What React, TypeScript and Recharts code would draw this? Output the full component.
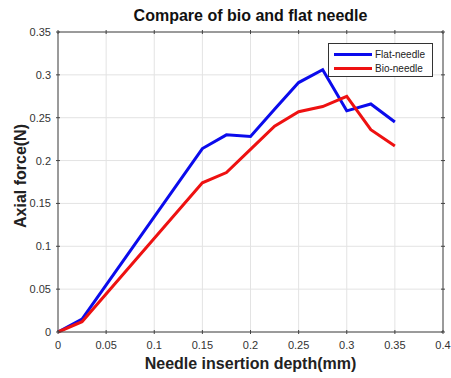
import {
  CartesianGrid,
  Label,
  Line,
  LineChart,
  XAxis,
  YAxis,
} from "recharts";

const depthMm = [0, 0.025, 0.15, 0.175, 0.2, 0.225, 0.25, 0.275, 0.3, 0.325, 0.35];
const flatNeedle = [0, 0.015, 0.214, 0.23, 0.228, 0.26, 0.291, 0.306, 0.258, 0.266, 0.245];
const bioNeedle = [0, 0.012, 0.174, 0.186, 0.213, 0.24, 0.257, 0.263, 0.275, 0.236, 0.217];
const xTicks = [0, 0.05, 0.1, 0.15, 0.2, 0.25, 0.3, 0.35, 0.4];
const yTicks = [0, 0.05, 0.1, 0.15, 0.2, 0.25, 0.3, 0.35];

const data = depthMm.map((d, i) => ({ depth: d, flat: flatNeedle[i], bio: bioNeedle[i] }));

const FONT = "'Liberation Sans', Arial, sans-serif";
const BLUE = "#0b0bec";
const RED = "#ee1111";
const AXIS = "#444";

const fmt = (v: number) => String(Number(v.toFixed(2)));

const BottomTick = ({ x, y, payload }: any) => (
  <g>
    <line x1={x} x2={x} y1={y} y2={y - 4} stroke={AXIS} />
    <text x={x} y={y + 15} textAnchor="middle" fontSize={11} fill="#333" fontFamily={FONT}>
      {fmt(payload.value)}
    </text>
  </g>
);
const TopTick = ({ x, y }: any) => <line x1={x} x2={x} y1={y} y2={y + 4} stroke={AXIS} />;
const LeftTick = ({ x, y, payload }: any) => (
  <g>
    <line x1={x} x2={x + 4} y1={y} y2={y} stroke={AXIS} />
    <text x={x - 5} y={y + 4} textAnchor="end" fontSize={11} fill="#333" fontFamily={FONT}>
      {fmt(payload.value)}
    </text>
  </g>
);
const RightTick = ({ x, y }: any) => <line x1={x} x2={x - 4} y1={y} y2={y} stroke={AXIS} />;

const legendItems = [
  { name: "Flat-needle", color: BLUE },
  { name: "Bio-needle", color: RED },
];

function ChartLegend() {
  return (
    <div
      style={{
        position: "absolute",
        left: 328,
        top: 43,
        width: 105,
        height: 34,
        border: "1px solid #333",
        background: "#fff",
        fontFamily: FONT,
        fontSize: 10,
        color: "#222",
        boxSizing: "border-box",
        paddingTop: 3,
      }}
    >
      {legendItems.map((item) => (
        <div key={item.name} style={{ display: "flex", alignItems: "center", height: 14 }}>
          <div style={{ width: 38, height: 3, background: item.color, marginLeft: 5, marginRight: 3 }} />
          <span>{item.name}</span>
        </div>
      ))}
    </div>
  );
}

export default function App() {
  return (
    <div style={{ position: "absolute", left: 0, top: 0, width: 451, height: 378, background: "#fff" }}>
      <div
        style={{
          position: "absolute",
          left: 58,
          width: 385,
          top: 7,
          textAlign: "center",
          fontFamily: FONT,
          fontWeight: "bold",
          fontSize: 16,
          color: "#111",
        }}
      >
        Compare of bio and flat needle
      </div>
      <LineChart width={451} height={378} data={data} margin={{ top: 31, right: 7, bottom: 0, left: 0 }}>
        <CartesianGrid stroke="#e3e3e3" horizontalValues={yTicks} verticalValues={xTicks} />
        <XAxis
          dataKey="depth"
          type="number"
          domain={[0, 0.4]}
          ticks={xTicks}
          height={46}
          tickSize={0}
          tickLine={false}
          tick={<BottomTick />}
          stroke={AXIS}
          interval={0}
        >
          <Label
            value="Needle insertion depth(mm)"
            position="insideBottom"
            offset={9}
            style={{ fontFamily: FONT, fontWeight: "bold", fontSize: 16, fill: "#222" }}
          />
        </XAxis>
        <XAxis
          xAxisId="top"
          orientation="top"
          dataKey="depth"
          type="number"
          domain={[0, 0.4]}
          ticks={xTicks}
          height={1}
          tickSize={0}
          tickLine={false}
          tick={<TopTick />}
          stroke={AXIS}
          interval={0}
        />
        <YAxis
          type="number"
          domain={[0, 0.35]}
          ticks={yTicks}
          width={58}
          tickSize={0}
          tickLine={false}
          tick={<LeftTick />}
          stroke={AXIS}
          interval={0}
        >
          <Label
            value="Axial force(N)"
            angle={-90}
            position="insideLeft"
            offset={20}
            dy={-6}
            style={{ fontFamily: FONT, fontWeight: "bold", fontSize: 16, fill: "#222", textAnchor: "middle" }}
          />
        </YAxis>
        <YAxis
          yAxisId="right"
          orientation="right"
          type="number"
          domain={[0, 0.35]}
          ticks={yTicks}
          width={1}
          tickSize={0}
          tickLine={false}
          tick={<RightTick />}
          stroke={AXIS}
          interval={0}
        />
        <Line
          xAxisId="top"
          yAxisId="right"
          dataKey="flat"
          stroke="none"
          strokeWidth={0}
          dot={false}
          legendType="none"
          isAnimationActive={false}
        />
        <Line
          dataKey="flat"
          name="Flat-needle"
          stroke={BLUE}
          strokeWidth={3}
          dot={false}
          type="linear"
          isAnimationActive={false}
        />
        <Line
          dataKey="bio"
          name="Bio-needle"
          stroke={RED}
          strokeWidth={3}
          dot={false}
          type="linear"
          isAnimationActive={false}
        />
      </LineChart>
      <ChartLegend />
    </div>
  );
}
